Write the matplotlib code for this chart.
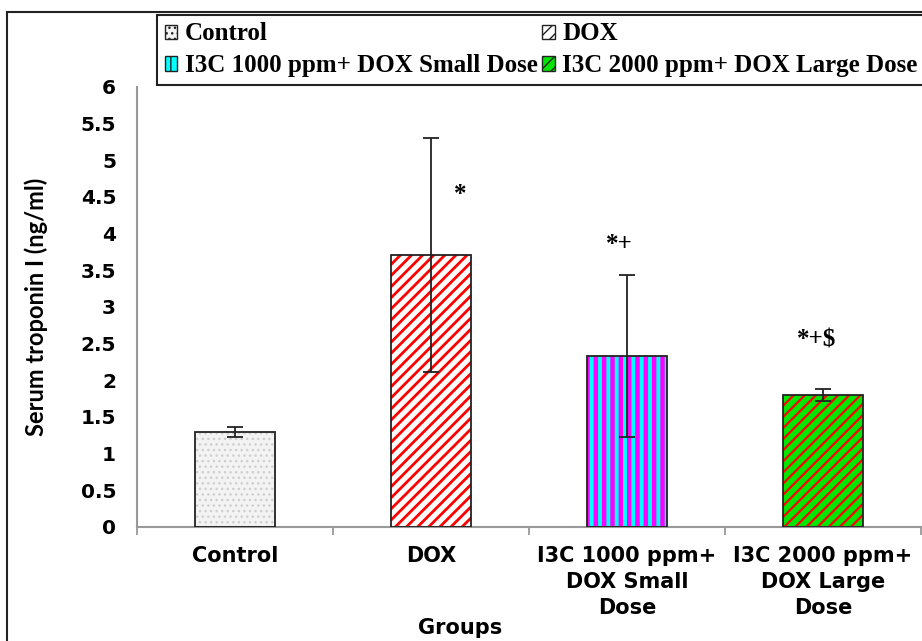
import matplotlib
matplotlib.use("Agg")
import matplotlib.pyplot as plt
from matplotlib.patches import Patch, Rectangle
import numpy as np

# troponin I values per group (mean and error)
groups = ["Control", "DOX", "I3C 1000 ppm+\nDOX Small\nDose", "I3C 2000 ppm+\nDOX Large\nDose"]
legend_names = ["Control", "DOX", "I3C 1000 ppm+ DOX Small Dose", "I3C 2000 ppm+ DOX Large Dose"]
means = [1.30, 3.71, 2.33, 1.80]
errors = [0.07, 1.60, 1.10, 0.08]
marks = ["", "*", "*+", "*+$"]
mark_x = [0.0, 1.15, 1.96, 2.97]
mark_y = [0.0, 4.53, 3.85, 2.55]

# face, hatch, hatch colour, hatch width
styles = [
    ("#f3f3f3", "...", "#cfcfcf", 1.0),
    ("white", "///", "#ff0000", 2.0),
    ("#00ffff", "||", "#ff00ff", 3.2),
    ("#00e600", "///", "#ff0000", 1.6),
]

fig = plt.figure(figsize=(9.22, 6.41), dpi=100)
ax = fig.add_axes([137/922, 1-527/641, 784/922, 440/641])

x = np.arange(len(groups))
w = 0.41


def hatched(ax_or_none, xs, ys, face, hatch, hcol, hlw, **kw):
    with plt.rc_context({"hatch.linewidth": hlw}):
        if ax_or_none is None:
            p = Patch(facecolor=face, hatch=hatch, edgecolor=hcol, linewidth=0)
            return p
        b = ax_or_none.bar(xs, ys, w, color=face, hatch=hatch, edgecolor=hcol, linewidth=0, **kw)
        for r in b:
            if hasattr(r, "set_hatch_linewidth"):
                r.set_hatch_linewidth(hlw)
        return b


for i, (face, hatch, hcol, hlw) in enumerate(styles):
    hatched(ax, x[i], means[i], face, hatch, hcol, hlw, zorder=2)
ax.bar(x, means, w, fill=False, edgecolor="#222222", linewidth=1.3, zorder=3)
ax.errorbar(x, means, yerr=errors, fmt="none", ecolor="#222222", elinewidth=1.3,
            capsize=6, capthick=1.3, zorder=4)

for mx, my, m in zip(mark_x, mark_y, marks):
    if m:
        ax.text(mx, my, m, ha="center", va="center", fontsize=18, fontweight="bold",
                family="Liberation Serif")

ax.set_xlim(-0.5, 3.5)
ax.set_ylim(0, 6)
ax.set_yticks(np.arange(0, 6.01, 0.5))
ax.set_yticklabels([f"{v:g}" for v in np.arange(0, 6.01, 0.5)])
ax.set_xticks(x)
ax.set_xticklabels(groups, fontsize=15, fontweight="bold", family="DejaVu Sans", linespacing=1.35)
ax.set_xticks(np.arange(-0.5, 3.6, 1), minor=True)
ax.tick_params(axis="x", which="major", length=0, pad=14)
ax.tick_params(axis="x", which="minor", length=6, color="#999999", width=1.3, direction="out")
ax.tick_params(axis="y", length=0, pad=15)
for lab in ax.get_yticklabels():
    lab.set_fontsize(14.5)
    lab.set_fontweight("bold")
for s in ["top", "right"]:
    ax.spines[s].set_visible(False)
for s in ["left", "bottom"]:
    ax.spines[s].set_color("#999999")
    ax.spines[s].set_linewidth(1.5)

fig.text(36/922, 1-307/641, "Serum troponin I (ng/ml)", rotation=90, ha="center", va="center",
         fontsize=17, fontweight="bold", family="Lato")
fig.text(460/922, 1-628/641, "Groups", ha="center", va="center", fontsize=15,
         fontweight="bold", family="DejaVu Sans")

# legend: row order Control/DOX then the two I3C groups
handles = [hatched(None, 0, 0, *s) for s in styles]
order = [0, 2, 1, 3]
for h in handles:
    h.set_edgecolor("#222222")
    h.set_linewidth(1.0)
leg = fig.legend([handles[i] for i in order], [legend_names[i] for i in order],
                 loc="upper left", bbox_to_anchor=(157/922, 1-15/641), ncol=2,
                 prop={"family": "Liberation Serif", "weight": "bold", "size": 18},
                 handlelength=0.5, handleheight=0.5, handletextpad=0.3,
                 columnspacing=0.2, labelspacing=0.35, borderpad=0.3,
                 borderaxespad=0, fancybox=False, framealpha=1)
leg.get_frame().set_edgecolor("#222222")
leg.get_frame().set_linewidth(1.5)

# outer frame around the whole chart
fig.patches.append(Rectangle((7/922, -0.1), 1.2, 1.1 - 12/641, transform=fig.transFigure,
                             fill=False, edgecolor="#222222", linewidth=1.5))

fig.savefig("out.png", dpi=100)
